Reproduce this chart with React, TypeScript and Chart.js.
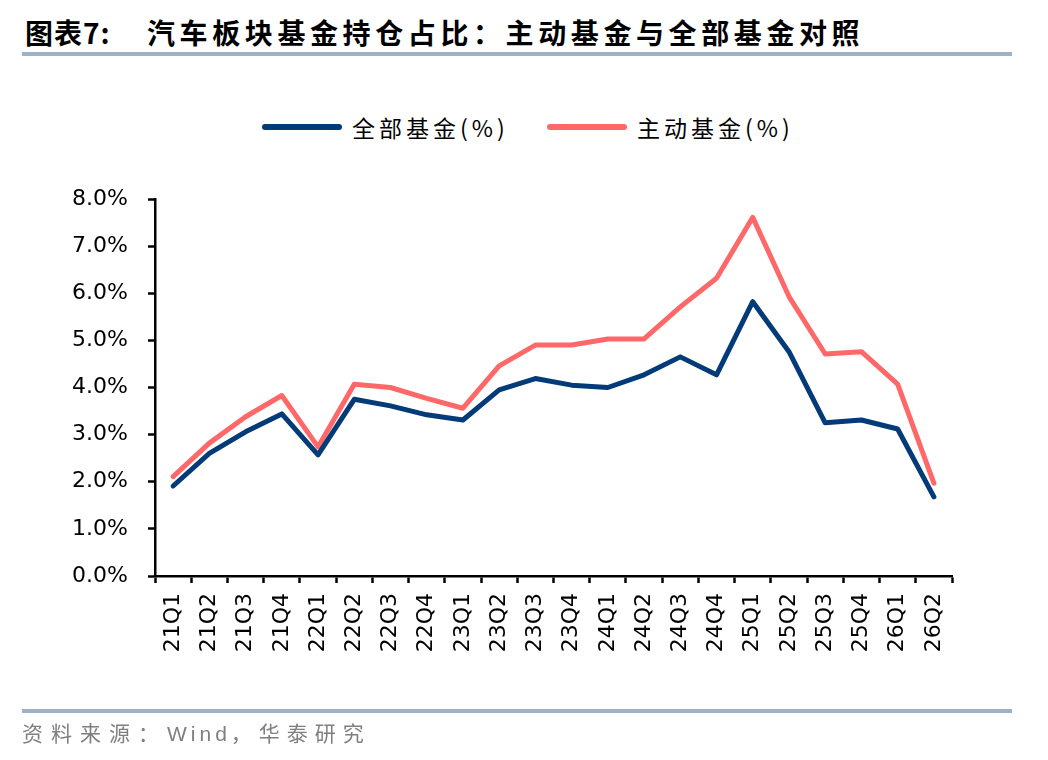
import React, { useEffect, useRef } from "react";
import { Chart, registerables } from "chart.js";

Chart.register(...registerables);

const quarters = [
  "21Q1", "21Q2", "21Q3", "21Q4", "22Q1", "22Q2", "22Q3", "22Q4",
  "23Q1", "23Q2", "23Q3", "23Q4", "24Q1", "24Q2", "24Q3", "24Q4",
  "25Q1", "25Q2", "25Q3", "25Q4", "26Q1", "26Q2",
];
// 全部基金 (%)
const allFunds = [
  1.91, 2.6, 3.06, 3.44, 2.57, 3.75, 3.61, 3.42, 3.31, 3.95, 4.19,
  4.05, 4.0, 4.27, 4.65, 4.27, 5.82, 4.76, 3.25, 3.31, 3.12, 1.68,
];
// 主动基金 (%)
const activeFunds = [
  2.11, 2.82, 3.38, 3.83, 2.74, 4.07, 4.0, 3.77, 3.56, 4.46, 4.9,
  4.9, 5.03, 5.03, 5.71, 6.32, 7.61, 5.93, 4.71, 4.76, 4.07, 1.97,
];
const yTicks = [0, 1, 2, 3, 4, 5, 6, 7, 8];

const BLUE = "#033a78";
const RED = "#ff6868";
const RULE = "#9db2c8";

export default function App() {
  const chartRef = useRef<HTMLCanvasElement>(null);

  useEffect(() => {
    if (!chartRef.current) return;
    const tickFont = { family: "'DejaVu Sans', sans-serif", size: 22 };

    const chart = new Chart(chartRef.current, {
      type: "line",
      data: {
        labels: quarters,
        datasets: [
          {
            label: "全部基金(%)",
            data: allFunds,
            borderColor: BLUE,
            backgroundColor: BLUE,
            borderWidth: 5,
            pointRadius: 0,
            tension: 0,
            borderJoinStyle: "round",
            borderCapStyle: "round",
          },
          {
            label: "主动基金(%)",
            data: activeFunds,
            borderColor: RED,
            backgroundColor: RED,
            borderWidth: 5,
            pointRadius: 0,
            tension: 0,
            borderJoinStyle: "round",
            borderCapStyle: "round",
          },
        ],
      },
      options: {
        animation: false,
        responsive: false,
        maintainAspectRatio: false,
        layout: { padding: { left: 0, right: 96, top: 199, bottom: 0 } },
        plugins: {
          legend: { display: false },
          tooltip: { enabled: false },
        },
        scales: {
          x: {
            offset: true,
            afterFit: (scale: any) => {
              scale.height = 184;
            },
            grid: {
              offset: true,
              drawOnChartArea: false,
              tickLength: 7,
              tickColor: "#000",
              tickWidth: 2.5,
            },
            border: { color: "#000", width: 2.5 },
            ticks: {
              autoSkip: false,
              minRotation: 90,
              maxRotation: 90,
              padding: 10,
              color: "#000",
              font: tickFont,
            },
          },
          y: {
            min: 0,
            max: 8,
            afterFit: (scale: any) => {
              scale.width = 155;
            },
            afterBuildTicks: (scale: any) => {
              scale.ticks = yTicks.map((v) => ({ value: v }));
            },
            grid: {
              drawOnChartArea: false,
              tickLength: 7,
              tickColor: "#000",
              tickWidth: 2.5,
            },
            border: { color: "#000", width: 2.5 },
            ticks: {
              padding: 20,
              color: "#000",
              font: tickFont,
              callback: (v: any) => Number(v).toFixed(1) + "%",
            },
          },
        },
      },
    });
    return () => {
      chart.destroy();
    };
  }, []);

  const legendText: React.CSSProperties = {
    position: "absolute",
    top: 112,
    fontFamily: "'Noto Sans CJK SC', sans-serif",
    fontSize: 23,
    lineHeight: "30px",
    letterSpacing: 4,
    color: "#000",
    whiteSpace: "nowrap",
  };
  const cjk = "'Noto Sans CJK SC', sans-serif";

  return (
    <div style={{ position: "relative", width: 1048, height: 760, background: "#fff", overflow: "hidden" }}>
      <style>{`body{margin:0}`}</style>
      <div
        style={{
          position: "absolute",
          left: 25,
          top: 14,
          fontFamily: cjk,
          fontWeight: 700,
          fontSize: 28,
          lineHeight: "36px",
          color: "#000",
          whiteSpace: "nowrap",
        }}
      >
        <span style={{ letterSpacing: 1 }}>图表7:</span>
        <span style={{ position: "absolute", left: 122, letterSpacing: 4.6 }}>
          汽车板块基金持仓占比：主动基金与全部基金对照
        </span>
      </div>
      <div style={{ position: "absolute", left: 22, top: 52, width: 990, height: 4, background: RULE }} />

      <div style={{ position: "absolute", left: 262, top: 124, width: 80, height: 6, borderRadius: 3, background: BLUE }} />
      <div style={{ ...legendText, left: 352 }}>全部基金(%)</div>
      <div style={{ position: "absolute", left: 547, top: 124, width: 80, height: 6, borderRadius: 3, background: RED }} />
      <div style={{ ...legendText, left: 637 }}>主动基金(%)</div>

      <canvas ref={chartRef} width={1048} height={760} style={{ position: "absolute", left: 0, top: 0 }} />

      <div style={{ position: "absolute", left: 22, top: 709, width: 990, height: 4, background: RULE }} />
      <div
        style={{
          position: "absolute",
          left: 22,
          top: 718,
          fontFamily: cjk,
          fontSize: 21,
          lineHeight: "28px",
          color: "#7f7f7f",
          whiteSpace: "nowrap",
        }}
      >
        <span style={{ letterSpacing: 8 }}>资料来源：</span>
        <span style={{ fontFamily: "'Liberation Sans', sans-serif", fontSize: 21, letterSpacing: 4 }}>Wind</span>
        <span style={{ letterSpacing: 7 }}>，华泰研究</span>
      </div>
    </div>
  );
}
